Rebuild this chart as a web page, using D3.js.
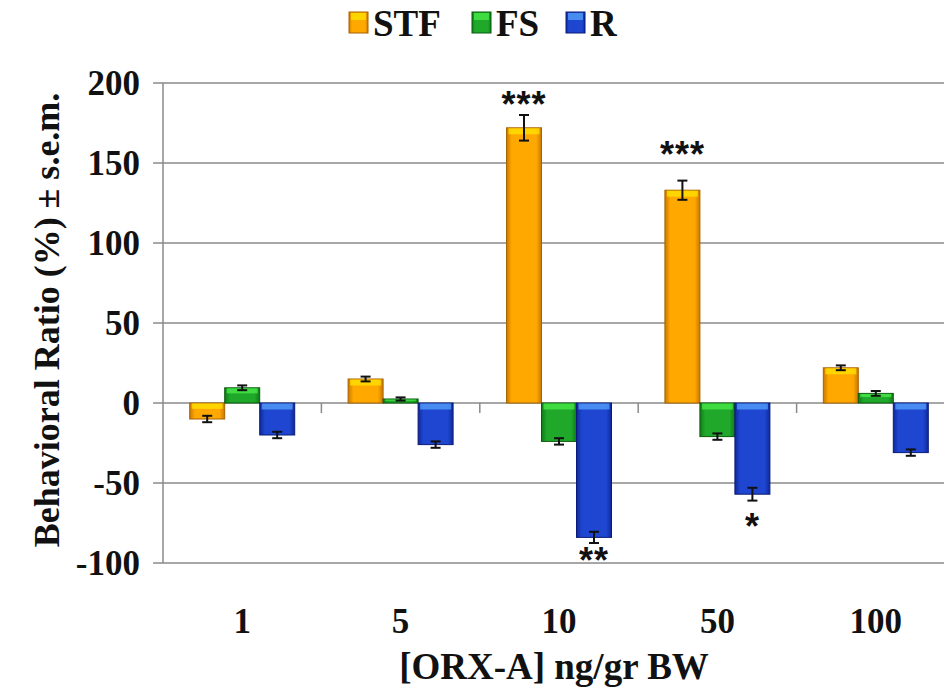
<!DOCTYPE html>
<html><head><meta charset="utf-8">
<script src="https://cdn.jsdelivr.net/npm/d3@7"></script>
<style>body{margin:0;background:#fff}svg{display:block}</style>
</head><body>
<svg id="c" width="944" height="691"></svg>
<script>
const categories = ["1","5","10","50","100"];
const seriesNames = ["STF","FS","R"];
const stf = [-10, 15, 172, 133, 22];
const fs  = [9.5, 2.5, -24, -21, 6];
const r   = [-20, -26, -84, -57, -31];
const stfErr = [2, 1.5, 8, 6, 1.5];
const fsErr  = [1.5, 1, 2, 2, 1.5];
const rErr   = [2, 2, 3.5, 4, 2];
const stfStars = ["","","***","***",""];
const rStars = ["","","**","*",""];
const yTicks = [-100,-50,0,50,100,150,200];

const values = [stf, fs, r];
const errs = [stfErr, fsErr, rErr];
const colors = [
  {mid:"#FFA800", edge:"#C97800", top:"#FFE800", border:"#A86400"},
  {mid:"#1FA82A", edge:"#117A18", top:"#4CF24C", border:"#0B5A10"},
  {mid:"#1E46D0", edge:"#10289A", top:"#5AA8FF", border:"#0A1C78"}
];
const FONT = "'Liberation Serif', 'Times New Roman', serif";

const svg = d3.select("#c");
const mLeft = 163, mRight = 955, mTop = 83, mBottom = 563;
const y = d3.scaleLinear().domain([-100,200]).range([mBottom, mTop]);
const x0 = d3.scaleBand().domain(categories).range([mLeft, mRight]).paddingInner(0).paddingOuter(0);
const bw = 35;
const x1 = d3.scaleBand().domain(seriesNames).range([0, bw*3]).padding(0);

const defs = svg.append("defs");
colors.forEach((c,i)=>{
  const g = defs.append("linearGradient").attr("id","h"+i).attr("x1","0").attr("x2","1").attr("y1","0").attr("y2","0");
  g.append("stop").attr("offset","0").attr("stop-color",c.edge);
  g.append("stop").attr("offset","0.15").attr("stop-color",c.mid);
  g.append("stop").attr("offset","0.85").attr("stop-color",c.mid);
  g.append("stop").attr("offset","1").attr("stop-color",c.edge);
});

// gridlines
svg.append("g").selectAll("line").data(yTicks).join("line")
  .attr("x1", mLeft-10).attr("x2", 944)
  .attr("y1", d=>y(d)).attr("y2", d=>y(d))
  .attr("stroke", "#8a8a8a").attr("stroke-width", 1.5);
// y axis line
svg.append("line").attr("x1",mLeft).attr("x2",mLeft).attr("y1",mTop).attr("y2",mBottom)
  .attr("stroke","#8a8a8a").attr("stroke-width",1.5);
// category ticks on zero line
svg.append("g").selectAll("line").data(categories.slice(1)).join("line")
  .attr("x1", d=>x0(d)).attr("x2", d=>x0(d))
  .attr("y1", y(0)).attr("y2", y(0)+10)
  .attr("stroke","#8a8a8a").attr("stroke-width",1.5);

// y tick labels
svg.append("g").selectAll("text").data(yTicks).join("text")
  .attr("x", 140).attr("y", d=>y(d)).attr("dy","0.34em")
  .attr("text-anchor","end")
  .attr("font-family",FONT).attr("font-weight","bold").attr("font-size",35)
  .attr("fill","#111")
  .text(d=>d);

// bars
const groupOffset = (x0.bandwidth() - bw*3)/2;
seriesNames.forEach((s,si)=>{
  const g = svg.append("g");
  categories.forEach((cat,ci)=>{
    const v = values[si][ci];
    const bx = x0(cat) + groupOffset + x1(s);
    const y0 = y(0), yv = y(v);
    const yt = Math.min(y0,yv), h = Math.abs(yv-y0);
    g.append("rect").attr("x",bx).attr("y",yt).attr("width",bw).attr("height",h)
      .attr("fill","url(#h"+si+")").attr("stroke",colors[si].border).attr("stroke-width",1);
    const hh = Math.min(6, h/3);
    g.append("rect").attr("x",bx+2).attr("y",yt+0.5).attr("width",bw-4).attr("height",hh)
      .attr("fill",colors[si].top).attr("opacity",0.7);
    const e = errs[si][ci];
    const cx = bx + bw/2;
    const ya = y(v - e), yb = y(v + e);
    const eg = g.append("g").attr("stroke","#111").attr("stroke-width",2);
    eg.append("line").attr("x1",cx).attr("x2",cx).attr("y1",ya).attr("y2",yb);
    eg.append("line").attr("x1",cx-5).attr("x2",cx+5).attr("y1",ya).attr("y2",ya);
    eg.append("line").attr("x1",cx-5).attr("x2",cx+5).attr("y1",yb).attr("y2",yb);
  });
});

// significance stars
categories.forEach((cat,ci)=>{
  if (stfStars[ci]) {
    const cx = x0(cat) + groupOffset + x1("STF") + bw/2;
    svg.append("text").attr("x",cx).attr("y", y(stf[ci]+stfErr[ci]) + (ci===3 ? -14 : 2))
      .attr("text-anchor","middle").attr("font-family","Liberation Sans, sans-serif").attr("font-weight","bold")
      .attr("font-size",36).attr("fill","#111").attr("letter-spacing","1").text(stfStars[ci]);
  }
  if (rStars[ci]) {
    const cx = x0(cat) + groupOffset + x1("R") + bw/2;
    svg.append("text").attr("x",cx).attr("y", y(r[ci]-rErr[ci]) + (ci===2 ? 30 : 38))
      .attr("text-anchor","middle").attr("font-family","Liberation Sans, sans-serif").attr("font-weight","bold")
      .attr("font-size",36).attr("fill","#111").attr("letter-spacing","1").text(rStars[ci]);
  }
});

// x tick labels
svg.append("g").selectAll("text").data(categories).join("text")
  .attr("x", d=>x0(d)+x0.bandwidth()/2).attr("y", 633)
  .attr("text-anchor","middle")
  .attr("font-family",FONT).attr("font-weight","bold").attr("font-size",35)
  .attr("fill","#111")
  .text(d=>d);

// axis titles
svg.append("text").attr("x", 554).attr("y", 679).attr("text-anchor","middle")
  .attr("font-family",FONT).attr("font-weight","bold").attr("font-size",37)
  .attr("fill","#111")
  .text("[ORX-A] ng/gr BW");
svg.append("text").attr("transform","translate(59,320) rotate(-90)").attr("text-anchor","middle")
  .attr("font-family",FONT).attr("font-weight","bold").attr("font-size",36)
  .attr("fill","#111")
  .text("Behavioral Ratio (%) ± s.e.m.");

// legend
const legX = [349, 472, 566];
seriesNames.forEach((s,i)=>{
  const lg = svg.append("g").attr("transform",`translate(${legX[i]},12)`);
  lg.append("rect").attr("width",19).attr("height",21).attr("fill","url(#h"+i+")")
    .attr("stroke",colors[i].border).attr("stroke-width",1);
  lg.append("rect").attr("x",2).attr("y",1).attr("width",15).attr("height",7).attr("fill",colors[i].top).attr("opacity",0.7);
  lg.append("text").attr("x",24).attr("y",24)
    .attr("font-family",FONT).attr("font-weight","bold").attr("font-size",37)
    .attr("fill","#111").text(s);
});
</script>
</body></html>
